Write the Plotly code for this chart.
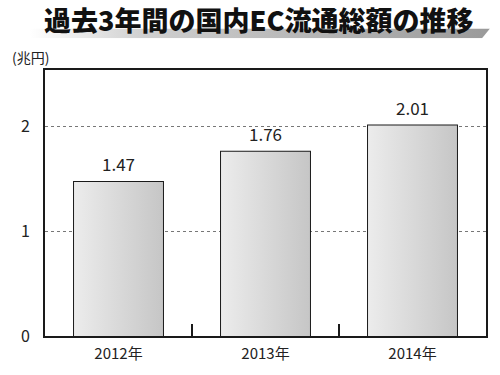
import base64
import plotly.graph_objects as go

categories = ["2012年", "2013年", "2014年"]
values = [1.47, 1.76, 2.01]
value_labels = ["1.47", "1.76", "2.01"]
y_ticks = [0, 1, 2]
title_text = "過去3年間の国内EC流通総額の推移"
unit_text = "(兆円)"

FONT = "Noto Sans CJK JP"
BAR_W = 0.605
xs = list(range(len(categories)))

fig = go.Figure()

# gradient fill behind bars
for i, v in zip(xs, values):
    fig.add_trace(go.Scatter(
        x=[i - BAR_W / 2, i + BAR_W / 2, i + BAR_W / 2, i - BAR_W / 2, i - BAR_W / 2],
        y=[0, 0, v, v, 0],
        mode="lines", line=dict(width=0), fill="toself",
        fillgradient=dict(type="horizontal",
                          colorscale=[[0, "#ececec"], [1, "#c6c6c6"]]),
        hoverinfo="skip", showlegend=False,
    ))

fig.add_trace(go.Bar(
    x=xs, y=values, width=BAR_W,
    marker=dict(color="rgba(0,0,0,0)", line=dict(color="#1a1a1a", width=2)),
    showlegend=False, hoverinfo="skip",
))

annotations = []
for i, v, lab in zip(xs, values, value_labels):
    annotations.append(dict(x=i, y=v, xref="x", yref="y", text=lab, showarrow=False,
                            yanchor="bottom", yshift=4,
                            font=dict(family=FONT, size=17, color="#222")))

svg = ('<svg xmlns="http://www.w3.org/2000/svg" width="460" height="10" viewBox="0 0 460 10" preserveAspectRatio="none">'
       '<defs><linearGradient id="g" x1="0" y1="0" x2="1" y2="0">'
       '<stop offset="0" stop-color="#ffffff"/><stop offset="0.25" stop-color="#cfcfcf"/>'
       '<stop offset="1" stop-color="#9a9a9a"/></linearGradient></defs>'
       '<polygon points="0,0 460,0 452,10 0,10" fill="url(#g)"/></svg>')
uri = "data:image/svg+xml;base64," + base64.b64encode(svg.encode()).decode()

annotations += [
    dict(text=title_text, xref="paper", yref="paper",
         x=(258 - 45) / 441, y=1 + (70 - 18) / 276, xanchor="center", yanchor="middle",
         showarrow=False, font=dict(family=FONT, size=27, color="#111", weight=900)),
    dict(text=unit_text, xref="paper", yref="paper",
         x=(10 - 45) / 441, y=1 + (70 - 57) / 276, xanchor="left", yanchor="middle",
         showarrow=False, font=dict(family=FONT, size=14, color="#222")),
]

fig.update_layout(
    width=500, height=375,
    margin=dict(l=45, r=14, t=70, b=29),
    paper_bgcolor="white", plot_bgcolor="white",
    font=dict(family=FONT, color="#222"),
    images=[dict(source=uri, xref="paper", yref="paper",
                 x=-15 / 441, y=1 + 43 / 276, sizex=460 / 441, sizey=10 / 276,
                 xanchor="left", yanchor="top", sizing="stretch", layer="below")],
    annotations=annotations,
    xaxis=dict(range=[-0.5, 2.5], tickvals=xs, ticktext=categories,
               tickfont=dict(family=FONT, size=15, color="#222"),
               showgrid=False, zeroline=False, showline=True, mirror=True,
               linecolor="#1a1a1a", linewidth=2, ticks="", ticklabelstandoff=3,
               minor=dict(tickvals=[0.5, 1.5], ticks="inside", ticklen=12,
                          tickwidth=2, tickcolor="#1a1a1a", showgrid=False)),
    yaxis=dict(range=[0, 2.54], tickvals=y_ticks,
               tickfont=dict(family=FONT, size=16, color="#222"),
               showgrid=True, gridcolor="#777", griddash="dot", gridwidth=1,
               zeroline=False, showline=True, mirror=True,
               linecolor="#1a1a1a", linewidth=2, ticks="", ticklabelstandoff=10),
)

fig.write_html("out.html", config={"displayModeBar": False},
               post_script="document.body.style.margin='0';document.body.style.overflow='hidden';")
